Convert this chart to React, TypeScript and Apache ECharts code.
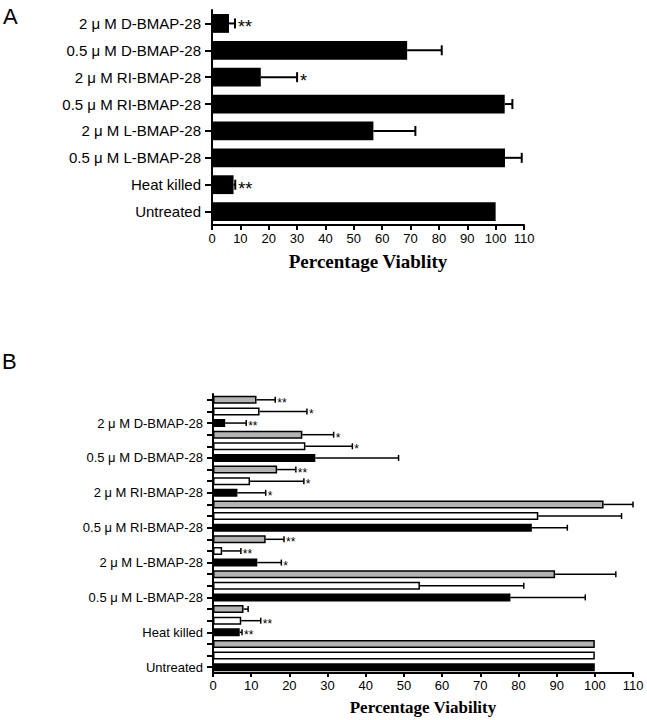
import React, { useEffect, useRef } from "react";
import * as echarts from "echarts";

// ---------- Panel A data (top to bottom) ----------
const groupNames = [
  "2 μ M D-BMAP-28",
  "0.5 μ M D-BMAP-28",
  "2 μ M RI-BMAP-28",
  "0.5 μ M RI-BMAP-28",
  "2 μ M L-BMAP-28",
  "0.5 μ M L-BMAP-28",
  "Heat killed",
  "Untreated",
];
const meanA = [6.0, 68.8, 17.2, 103.2, 56.9, 103.3, 7.6, 100];
const errA = [2.1, 12.2, 12.8, 2.7, 14.8, 5.9, 0.6, 0];
const starsA = ["**", "", "*", "", "", "", "**", ""];

// ---------- Panel B data (per group, top to bottom) ----------
const grayB = [11.4, 23.4, 16.8, 102.3, 13.8, 89.6, 8.0, 100];
const grayErrB = [4.9, 8.2, 4.9, 7.7, 4.8, 15.9, 1.2, 0];
const grayStarsB = ["**", "*", "**", "", "**", "", "", ""];
const whiteB = [12.2, 24.2, 9.7, 85.2, 2.4, 54.2, 7.4, 100];
const whiteErrB = [12.4, 12.3, 14.1, 21.8, 4.9, 27.2, 5.1, 0];
const whiteStarsB = ["*", "*", "*", "", "**", "", "**", ""];
const blackB = [3.2, 26.8, 6.4, 83.5, 11.6, 77.9, 7.0, 100];
const blackErrB = [5.5, 21.8, 7.4, 9.3, 6.3, 19.6, 0.6, 0];
const blackStarsB = ["**", "", "*", "", "*", "", "**", ""];

const xTicks = { min: 0, max: 110, interval: 10 };
const titleA = "Percentage Viablity";
const titleB = "Percentage Viability";

const SANS = "'Liberation Sans', Arial, sans-serif";
const SERIF = "'Liberation Serif', 'Times New Roman', serif";
const GRAY = "#b3b3b3";

export default function App() {
  const ref = useRef<HTMLDivElement>(null);

  useEffect(() => {
    document.body.style.margin = "0";
    if (!ref.current) return;
    const chart = echarts.init(ref.current, null, { renderer: "svg" });

    // Panel B flattened rows
    const catsB: string[] = [];
    const barsB: any[] = [];
    const errRowsB: number[][] = [];
    const starsB: string[] = [];
    groupNames.forEach((name, g) => {
      const rows = [
        { key: name + "#gray", v: grayB[g], e: grayErrB[g], s: grayStarsB[g], c: GRAY },
        { key: name + "#white", v: whiteB[g], e: whiteErrB[g], s: whiteStarsB[g], c: "#ffffff" },
        { key: name, v: blackB[g], e: blackErrB[g], s: blackStarsB[g], c: "#000000" },
      ];
      rows.forEach((r) => {
        const idx = catsB.length;
        catsB.push(r.key);
        barsB.push({ value: r.v, itemStyle: { color: r.c } });
        errRowsB.push([r.v, r.v + r.e, idx]);
        starsB.push(r.s);
      });
    });

    const errRowsA = meanA.map((m, i) => [m, m + errA[i], i]);

    const makeErr = (stars: string[], capHalf: number, lw: number, fs: number, lh: number, starDy: number, gap: number) =>
      (params: any, api: any) => {
        const mean = api.value(0);
        const up = api.value(1);
        const idx = api.value(2);
        const p0 = api.coord([mean, idx]);
        const p1 = api.coord([up, idx]);
        const children: any[] = [];
        if (up > mean) {
          children.push({
            type: "line",
            shape: { x1: p0[0], y1: p0[1], x2: p1[0], y2: p1[1] },
            style: { stroke: "#000", lineWidth: lw },
          });
          children.push({
            type: "line",
            shape: { x1: p1[0], y1: p1[1] - capHalf, x2: p1[0], y2: p1[1] + capHalf },
            style: { stroke: "#000", lineWidth: lw },
          });
        }
        const s = stars[params.dataIndex];
        if (s) {
          children.push({
            type: "text",
            style: {
              text: s,
              x: p1[0] + gap,
              y: p1[1] + starDy,
              fill: "#000",
              fontSize: fs,
              lineHeight: lh,
              fontFamily: SANS,
              align: "left",
              verticalAlign: "middle",
            },
          });
        }
        return { type: "group", children };
      };

    const axisLine = { show: true, lineStyle: { color: "#000", width: 2 } };

    const option: any = {
      animation: false,
      backgroundColor: "#fff",
      graphic: [
        { type: "text", left: 3, top: 5, style: { text: "A", fontSize: 22, fontFamily: SANS, fill: "#000" } },
        { type: "text", left: 2, top: 350, style: { text: "B", fontSize: 22, fontFamily: SANS, fill: "#000" } },
      ],
      grid: [
        { left: 212, top: 10, width: 312, height: 215 },
        { left: 213, top: 394, width: 420, height: 279 },
      ],
      xAxis: [
        {
          gridIndex: 0,
          type: "value",
          ...xTicks,
          axisLine,
          axisTick: { show: true, length: 5, lineStyle: { color: "#000", width: 2 } },
          splitLine: { show: false },
          axisLabel: { color: "#000", fontSize: 13, fontFamily: SANS, margin: 7, showMinLabel: true, showMaxLabel: true },
          name: titleA,
          nameLocation: "middle",
          nameGap: 27,
          nameTextStyle: { fontFamily: SERIF, fontWeight: "bold", fontSize: 19, color: "#000", verticalAlign: "top" },
        },
        {
          gridIndex: 1,
          type: "value",
          ...xTicks,
          axisLine,
          axisTick: { show: true, length: 4, lineStyle: { color: "#000", width: 2 } },
          splitLine: { show: false },
          axisLabel: { color: "#000", fontSize: 13, fontFamily: SANS, margin: 6, showMinLabel: true, showMaxLabel: true },
          name: titleB,
          nameLocation: "middle",
          nameGap: 26,
          nameTextStyle: { fontFamily: SERIF, fontWeight: "bold", fontSize: 17, color: "#000", verticalAlign: "top" },
        },
      ],
      yAxis: [
        {
          gridIndex: 0,
          type: "category",
          inverse: true,
          data: groupNames,
          axisLine,
          axisTick: { show: true, length: 7, alignWithLabel: true, lineStyle: { color: "#000", width: 2 } },
          axisLabel: { color: "#000", fontSize: 15, fontFamily: SANS, margin: 11, interval: 0 },
        },
        {
          gridIndex: 1,
          type: "category",
          inverse: true,
          data: catsB,
          axisLine,
          axisTick: { show: true, length: 6, alignWithLabel: true, interval: 0, lineStyle: { color: "#000", width: 2 } },
          axisLabel: {
            color: "#000",
            fontSize: 13,
            fontFamily: SANS,
            margin: 10,
            interval: 0,
            formatter: (v: string) => (v.indexOf("#") >= 0 ? "" : v),
          },
        },
      ],
      series: [
        {
          type: "bar",
          xAxisIndex: 0,
          yAxisIndex: 0,
          data: meanA,
          barWidth: "70%",
          itemStyle: { color: "#000" },
        },
        {
          type: "custom",
          xAxisIndex: 0,
          yAxisIndex: 0,
          data: errRowsA,
          encode: { x: [0, 1], y: 2 },
          renderItem: makeErr(starsA, 5, 2, 18, 18, 4, 3),
          z: 5,
          clip: false,
        },
        {
          type: "bar",
          xAxisIndex: 1,
          yAxisIndex: 1,
          data: barsB,
          barWidth: "68%",
          itemStyle: { borderColor: "#000", borderWidth: 1.5 },
        },
        {
          type: "custom",
          xAxisIndex: 1,
          yAxisIndex: 1,
          data: errRowsB,
          encode: { x: [0, 1], y: 2 },
          renderItem: makeErr(starsB, 3, 1.5, 12, 10, 3, 2),
          z: 5,
          clip: false,
        },
      ],
    };

    chart.setOption(option);
    return () => chart.dispose();
  }, []);

  return <div ref={ref} style={{ width: 647, height: 720 }} />;
}
